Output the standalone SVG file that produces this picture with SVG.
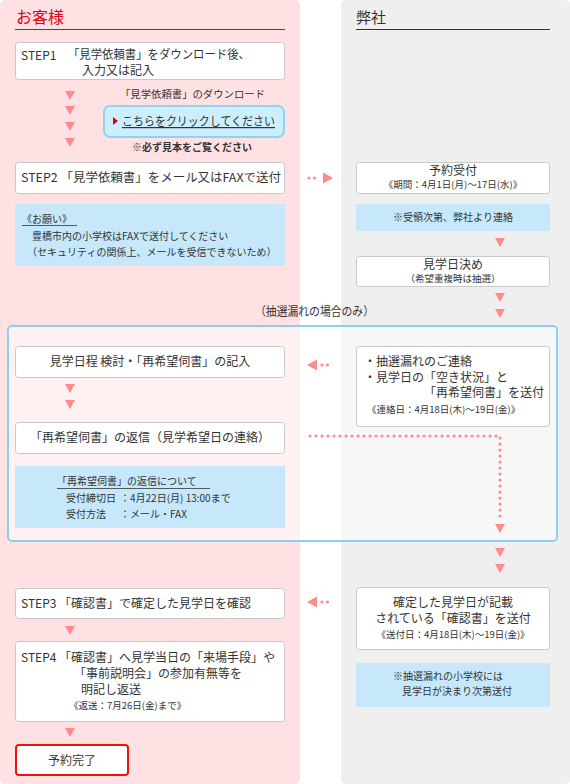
<svg xmlns="http://www.w3.org/2000/svg" xmlns:xlink="http://www.w3.org/1999/xlink" width="570" height="784" viewBox="0 0 570 784">
<style>
text{font-family:"Noto Sans CJK JP","Liberation Sans",sans-serif;fill:#333;font-size:12px}
.s{font-size:9.5px}
.n{font-size:10px}
.c{text-anchor:middle}
.box{fill:#fff;stroke:#c8c8c8;stroke-width:1}
.note{fill:#c7e8fb}
.dot{fill:none;stroke:#ff8a8a;stroke-width:3;stroke-linecap:round;stroke-dasharray:0 6}
.arr{fill:#ff8a8a}
</style>
<defs>
<polygon id="tri" points="-5,0 5,0 0,9" class="arr"/>
<polygon id="triR" points="0,-5.5 0,5.5 10,0" class="arr"/>
<polygon id="triL" points="10,-5.5 10,5.5 0,0" class="arr"/>
<g id="dots2"><circle cx="0" cy="0" r="1.6" class="arr"/><circle cx="5.5" cy="0" r="1.6" class="arr"/></g>
</defs>

<g id="columns">
<rect x="0" y="0" width="300" height="784" rx="5" fill="#ffe1e3"/>
<rect x="341" y="0" width="229" height="784" rx="5" fill="#efefef"/>
</g>

<g id="headers">
<text x="16" y="23" style="font-size:16px;fill:#e60012">お客様</text>
<line x1="15" y1="29.5" x2="285" y2="29.5" stroke="#e60012" stroke-width="1"/>
<text x="356" y="23" style="font-size:15px">弊社</text>
<line x1="356" y1="29.5" x2="550" y2="29.5" stroke="#333" stroke-width="1"/>
</g>

<g id="lottery-region">
<rect x="8" y="326" width="549" height="215" rx="4" fill="#fff" fill-opacity="0.5" stroke="#8dcfee" stroke-width="2"/>
<text x="255" y="316" textLength="119" lengthAdjust="spacingAndGlyphs">（抽選漏れの場合のみ）</text>
</g>

<g id="step1">
<rect class="box" x="15.5" y="42.5" width="269" height="37" rx="3"/>
<text x="21" y="60">STEP1</text>
<text x="68" y="59" textLength="182" lengthAdjust="spacingAndGlyphs">「見学依頼書」をダウンロード後、</text>
<text x="82" y="75">入力又は記入</text>
</g>

<g id="download">
<text x="120" y="98" class="n" textLength="145" lengthAdjust="spacingAndGlyphs">「見学依頼書」のダウンロード</text>
<rect x="104" y="106" width="180" height="31" rx="6" fill="#cdeefe" stroke="#8fd3f0" stroke-width="2"/>
<polygon points="113,117 113,125 118,121" fill="#e60012"/>
<text x="122" y="126" text-decoration="underline" textLength="153" lengthAdjust="spacingAndGlyphs">こちらをクリックしてください</text>
<text x="132" y="151" class="n" font-weight="bold">※必ず見本をご覧ください</text>
</g>

<g id="step2">
<rect class="box" x="15.5" y="162.5" width="269" height="31" rx="3"/>
<text x="21" y="182" textLength="260" lengthAdjust="spacingAndGlyphs">STEP2 「見学依頼書」をメール又はFAXで送付</text>
</g>

<g id="request-note">
<rect class="note" x="15" y="204" width="270" height="62"/>
<text x="22" y="223" class="n">《お願い》</text>
<line x1="22" y1="225.5" x2="77" y2="225.5" stroke="#333" stroke-width="0.8"/>
<text x="32" y="240" class="n">豊橋市内の小学校はFAXで送付してください</text>
<text x="27" y="256" class="n">（セキュリティの関係上、メールを受信できないため）</text>
</g>

<g id="reception">
<rect class="box" x="356.5" y="162.5" width="193" height="31" rx="3"/>
<text x="453" y="175" class="c">予約受付</text>
<text x="453" y="188" class="s c">《期間：4月1日(月)～17日(水)》</text>
</g>

<g id="reception-note">
<rect class="note" x="356" y="204" width="194" height="27"/>
<text x="453" y="221" class="n c">※受領次第、弊社より連絡</text>
</g>

<g id="decide">
<rect class="box" x="356.5" y="256.5" width="193" height="30" rx="3"/>
<text x="453" y="269" class="c">見学日決め</text>
<text x="453" y="282" class="s c">（希望重複時は抽選）</text>
</g>

<g id="review">
<rect class="box" x="15.5" y="346.5" width="269" height="31" rx="3"/>
<text x="150" y="366" class="c">見学日程 検討・「再希望伺書」の記入</text>
</g>

<g id="reply">
<rect class="box" x="15.5" y="422.5" width="269" height="31" rx="3"/>
<text x="150" y="442" class="c">「再希望伺書」の返信（見学希望日の連絡）</text>
</g>

<g id="reply-note">
<rect class="note" x="15" y="466" width="270" height="62"/>
<text x="57" y="485" class="n">「再希望伺書」の返信について</text>
<line x1="57" y1="488.5" x2="210" y2="488.5" stroke="#333" stroke-width="0.8"/>
<text x="66" y="502" class="n">受付締切日</text>
<text x="120" y="502" class="n">：4月22日(月) 13:00まで</text>
<text x="66" y="518" class="n">受付方法</text>
<text x="120" y="518" class="n">：メール・FAX</text>
</g>

<g id="lottery-notice">
<rect class="box" x="356.5" y="346.5" width="193" height="80" rx="3"/>
<text x="364" y="366">・抽選漏れのご連絡</text>
<text x="364" y="382">・見学日の「空き状況」と</text>
<text x="424" y="397">「再希望伺書」を送付</text>
<text x="367" y="413" class="s">《連絡日：4月18日(木)～19日(金)》</text>
</g>

<g id="step3">
<rect class="box" x="15.5" y="588.5" width="269" height="30" rx="3"/>
<text x="21" y="608">STEP3 「確認書」で確定した見学日を確認</text>
</g>

<g id="step4">
<rect class="box" x="15.5" y="641.5" width="269" height="80" rx="3"/>
<text x="21" y="662">STEP4 「確認書」へ見学当日の「来場手段」や</text>
<text x="74" y="678">「事前説明会」の参加有無等を</text>
<text x="81" y="694">明記し返送</text>
<text x="69" y="709" class="s">《返送：7月26日(金)まで》</text>
</g>

<g id="done">
<rect x="16" y="745" width="112" height="30" rx="3" fill="#fff" stroke="#ee1111" stroke-width="2"/>
<text x="72" y="765" class="c">予約完了</text>
</g>

<g id="confirm-send">
<rect class="box" x="356.5" y="587.5" width="193" height="62" rx="3"/>
<text x="453" y="607" class="c">確定した見学日が記載</text>
<text x="453" y="623" class="c">されている「確認書」を送付</text>
<text x="453" y="638" class="s c">《送付日：4月18日(木)～19日(金)》</text>
</g>

<g id="confirm-note">
<rect class="note" x="356" y="663" width="194" height="44"/>
<text x="393" y="680" class="n">※抽選漏れの小学校には</text>
<text x="402" y="695" class="n">見学日が決まり次第送付</text>
</g>

<g id="connectors">
<use href="#tri" x="70" y="91"/>
<use href="#tri" x="70" y="106"/>
<use href="#tri" x="70" y="122"/>
<use href="#tri" x="70" y="138"/>
<use href="#dots2" x="309" y="178"/>
<use href="#triR" x="323" y="178"/>
<use href="#tri" x="500" y="238"/>
<use href="#tri" x="500" y="293"/>
<use href="#tri" x="500" y="309"/>
<use href="#triL" x="307" y="365"/>
<use href="#dots2" x="322" y="365"/>
<use href="#tri" x="70" y="384"/>
<use href="#tri" x="70" y="400"/>
<polyline class="dot" points="310,436 500,436 500,520"/>
<use href="#tri" x="500" y="524"/>
<use href="#tri" x="500" y="548"/>
<use href="#tri" x="500" y="564"/>
<use href="#triL" x="307" y="602"/>
<use href="#dots2" x="322" y="602"/>
<use href="#tri" x="70" y="626"/>
<use href="#tri" x="70" y="728"/>
</g>
</svg>
